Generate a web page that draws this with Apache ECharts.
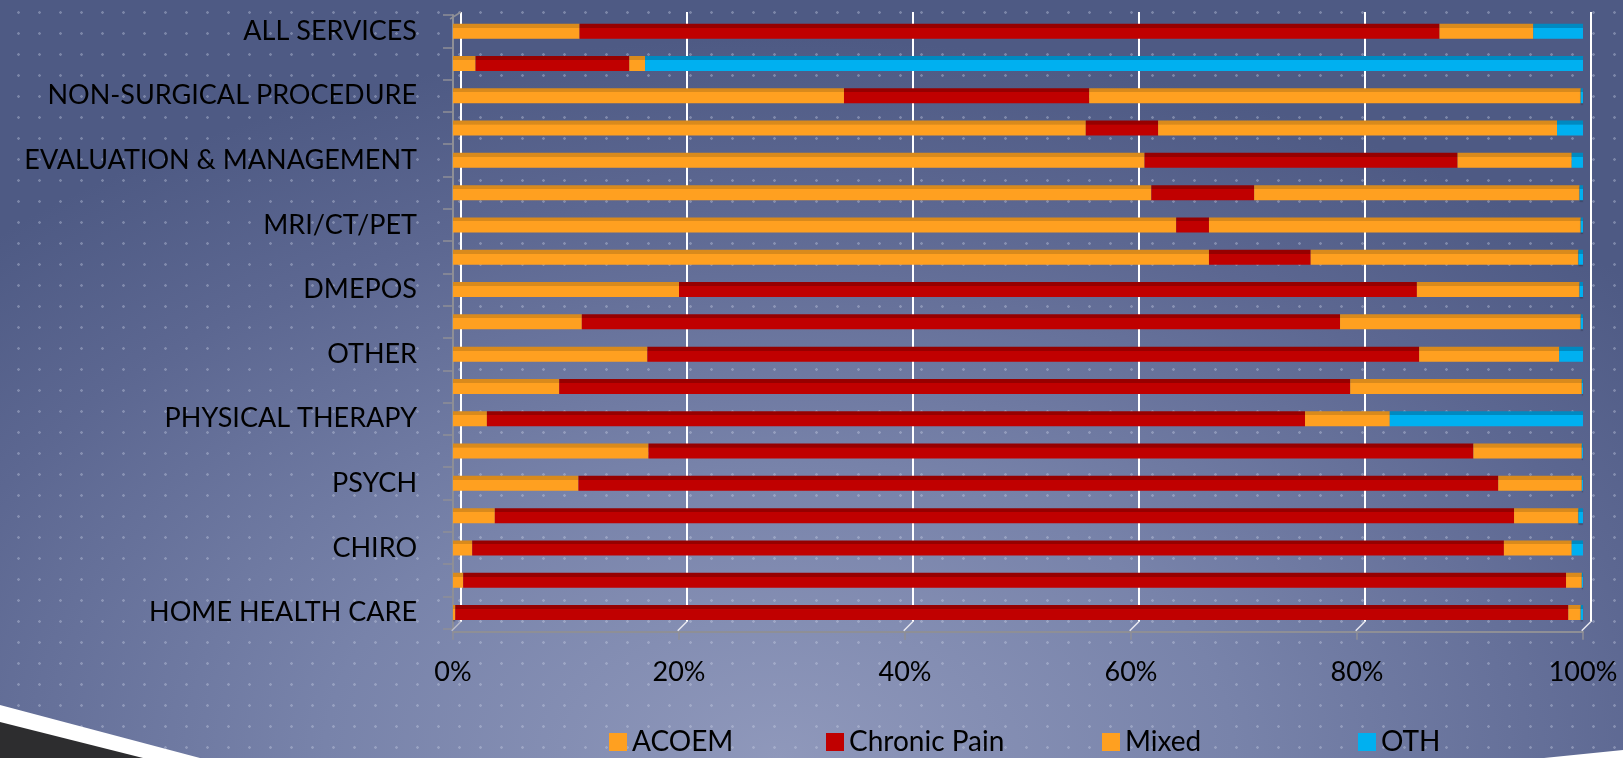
<!DOCTYPE html>
<html>
<head>
<meta charset="utf-8">
<script src="https://cdn.jsdelivr.net/npm/echarts@6/dist/echarts.min.js"></script>
<style>
  html, body { margin: 0; padding: 0; }
  body {
    width: 1623px; height: 758px; overflow: hidden;
    background-color: #5d6892;
    background-image:
      radial-gradient(circle, rgba(205,212,232,0.35) 1px, transparent 1.6px),
      radial-gradient(ellipse 70% 95% at 48% 100%, #8f98bb 0%, #7883aa 40%, #5c6791 78%, #4e5a84 100%);
    background-size: 21px 21px, 100% 100%;
    background-position: 8px 2px, 0 0;
  }
  #chart { width: 1623px; height: 758px; }
</style>
</head>
<body>
<div id="chart"></div>
<script>
// Categories top to bottom; Excel only printed every other label
const categories = [
  'ALL SERVICES', '', 'NON-SURGICAL PROCEDURE', '', 'EVALUATION & MANAGEMENT', '',
  'MRI/CT/PET', '', 'DMEPOS', '', 'OTHER', '', 'PHYSICAL THERAPY', '',
  'PSYCH', '', 'CHIRO', '', 'HOME HEALTH CARE'
];

// share of each guideline, percent
const acoem   = [11.2, 2.0, 34.6, 56.0, 61.2, 61.8, 64.0, 66.9, 20.0, 11.4, 17.2, 9.4, 3.0, 17.3, 11.1, 3.7, 1.7, 0.9, 0.2];
const chronic = [76.1, 13.6, 21.7, 6.4, 27.7, 9.1, 2.9, 9.0, 65.3, 67.1, 68.3, 70.0, 72.4, 73.0, 81.4, 90.2, 91.3, 97.6, 98.5];
const mixed   = [8.3, 1.4, 43.5, 35.3, 10.1, 28.8, 32.9, 23.7, 14.4, 21.3, 12.4, 20.5, 7.5, 9.6, 7.4, 5.7, 6.0, 1.4, 1.1];
const oth     = [4.4, 83.0, 0.2, 2.3, 1.0, 0.3, 0.2, 0.4, 0.3, 0.2, 2.1, 0.1, 17.1, 0.1, 0.1, 0.4, 1.0, 0.1, 0.2];

const xTicks = [0, 20, 40, 60, 80, 100];

const FONT = 'Lato, Liberation Sans, sans-serif';
const AXIS_GRAY = '#8e8f96';

// bar with a darker strip on top to fake the 3D top face
function faceColor(main, top) {
  return new echarts.graphic.LinearGradient(0, 0, 0, 1, [
    { offset: 0, color: top },
    { offset: 0.26, color: top },
    { offset: 0.27, color: main },
    { offset: 1, color: main }
  ]);
}

function barSeries(name, data, main, top) {
  return {
    name: name,
    type: 'bar',
    stack: 'total',
    xAxisIndex: 0,
    yAxisIndex: 0,
    barWidth: 15,
    data: data,
    itemStyle: {
      color: faceColor(main, top),
      shadowColor: 'rgba(40,40,60,0.45)',
      shadowOffsetY: 1.5,
      shadowBlur: 1
    },
    emphasis: { disabled: true },
    animation: false
  };
}

const ORANGE = '#ffa020';
const ORANGE_TOP = '#d98a1c';
const RED = '#c00000';
const RED_TOP = '#960000';
const BLUE = '#00b0f0';
const BLUE_TOP = '#0089c0';

function legendAt(name, color, left) {
  return {
    data: [{ name: name, itemStyle: { color: color } }],
    left: left,
    top: 723,
    itemWidth: 18,
    itemHeight: 18,
    icon: 'rect',
    textStyle: { fontSize: 28, color: '#000', fontFamily: FONT },
    selectedMode: false
  };
}

const chart = echarts.init(document.getElementById('chart'), null, { renderer: 'canvas' });

chart.setOption({
  backgroundColor: 'transparent',
  animation: false,
  legend: [
    legendAt('ACOEM', ORANGE, 604),
    legendAt('Chronic Pain', RED, 821),
    legendAt('Mixed', ORANGE, 1097),
    legendAt('OTH', BLUE, 1353)
  ],
  grid: [
    { left: 453, top: 15, width: 1130, height: 613.7 },   // front: bars
    { left: 460.7, top: 12, width: 1130, height: 609.7 }  // back wall: gridlines
  ],
  xAxis: [
    {
      gridIndex: 0, type: 'value', min: 0, max: 100, interval: 20,
      offset: 3,
      axisLine: { show: true, lineStyle: { color: AXIS_GRAY, width: 2 } },
      axisTick: { show: true, length: 8, lineStyle: { color: AXIS_GRAY, width: 1.5 } },
      axisLabel: { formatter: '{value}%', fontSize: 27, color: '#000', margin: 27, fontFamily: FONT },
      splitLine: { show: false }
    },
    {
      gridIndex: 1, type: 'value', min: 0, max: 100, interval: 20,
      axisLine: { show: false }, axisTick: { show: false }, axisLabel: { show: false },
      splitLine: { show: true, lineStyle: { color: '#ffffff', width: 2 } }
    }
  ],
  yAxis: [
    {
      gridIndex: 0, type: 'category', inverse: true, data: categories,
      offset: 3,
      axisLine: { show: true, lineStyle: { color: AXIS_GRAY, width: 2 } },
      axisTick: { show: true, length: 10, lineStyle: { color: AXIS_GRAY, width: 1.5 } },
      axisLabel: {
        interval: 0, fontSize: 27, color: '#000', margin: 33, fontFamily: FONT,
        padding: [13, 0, 0, 0]
      },
      splitLine: { show: false }
    },
    { gridIndex: 1, type: 'value', show: false, min: 0, max: 1 }
  ],
  series: [
    barSeries('ACOEM', acoem, ORANGE, ORANGE_TOP),
    barSeries('Chronic Pain', chronic, RED, RED_TOP),
    barSeries('Mixed', mixed, ORANGE, ORANGE_TOP),
    barSeries('OTH', oth, BLUE, BLUE_TOP)
  ]
});

// floor diagonals under the back gridlines, wall corner, slide decoration
const backBottom = 621.7;
const frontBottom = 631.7;
const deco = [];
xTicks.forEach(function (v, i) {
  const xb = chart.convertToPixel({ xAxisIndex: 1 }, v);
  deco.push({
    type: 'polyline',
    shape: { points: [[xb, backBottom], [xb - 9, frontBottom - 1]] },
    style: { stroke: i === 0 ? '#b9bccb' : '#e8e8f0', lineWidth: 1.5, fill: null },
    z: 1
  });
});
deco.push({
  type: 'polyline',
  shape: { points: [[450, 19], [461, 12]] },
  style: { stroke: AXIS_GRAY, lineWidth: 1.5, fill: null }
});
deco.push({
  type: 'polygon',
  shape: { points: [[0, 705], [200, 758], [0, 758]] },
  style: { fill: '#ffffff' }
});
deco.push({
  type: 'polygon',
  shape: { points: [[0, 722], [143, 758], [0, 758]] },
  style: { fill: '#2d2d2f' }
});
deco.push({
  type: 'polygon',
  shape: { points: [[1544, 758], [1623, 750], [1623, 758]] },
  style: { fill: '#ffffff' }
});
chart.setOption({ graphic: deco });
</script>
</body>
</html>
